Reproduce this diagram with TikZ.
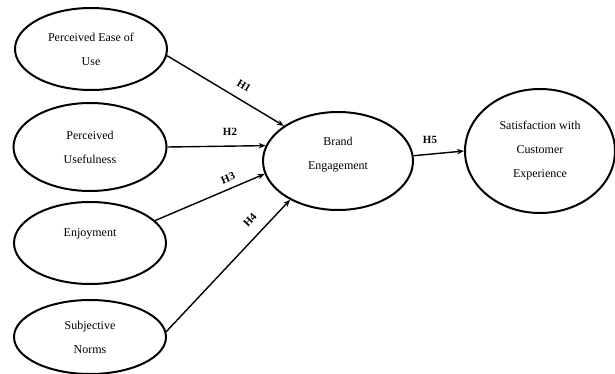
\documentclass[tikz,border=0pt]{standalone}
\usepackage{fontspec}
\setmainfont{Liberation Serif}
\usetikzlibrary{shapes.geometric,arrows.meta}
\begin{document}
\begin{tikzpicture}[x=1pt,y=-1pt,
  construct/.style={draw=black,line width=2pt,ellipse,inner sep=0pt,align=center,
    font=\fontsize{12}{24}\selectfont},
  arr/.style={draw=black,line width=1.4pt,-{Stealth[length=7pt,width=5.5pt]}},
  hlab/.style={font=\fontsize{11}{13}\selectfont\bfseries,inner sep=0pt}]
\useasboundingbox (0,0) rectangle (615,374);
\node[construct,minimum width=152pt,minimum height=82pt] (pe) at (91,49) {Perceived Ease of\\Use};
\node[construct,minimum width=153pt,minimum height=88pt] (pu) at (90,147) {Perceived\\Usefulness};
\node[construct,minimum width=152pt,minimum height=82pt] (en) at (90,243) {Enjoyment\\[-4pt]\mbox{}};
\node[construct,minimum width=152pt,minimum height=74pt] (sn) at (90,337) {Subjective\\Norms};
\node[construct,minimum width=150pt,minimum height=98pt] (be) at (338,161) {Brand\\Engagement\\[-8pt]\mbox{}};
\node[construct,minimum width=150pt,minimum height=124pt] (sc) at (540,151) {Satisfaction with\\Customer\\Experience};
\draw[arr] (pe.-5) -- (be.147);
\draw[arr] (pu.0) -- (be.168);
\draw[arr] (en.19) -- (be.-170);
\draw[arr] (sn.4) -- (be.-141);
\draw[arr] (be.4.6) -- (sc.180);
\node[hlab,rotate=-31] (h1) at (244,86) {H1};
\node[hlab] (h2) at (230,132) {H2};
\node[hlab,rotate=23] (h3) at (228,178) {H3};
\node[hlab,rotate=47] (h4) at (250,220) {H4};
\node[hlab] (h5) at (430,140) {H5};
\end{tikzpicture}
\end{document}
